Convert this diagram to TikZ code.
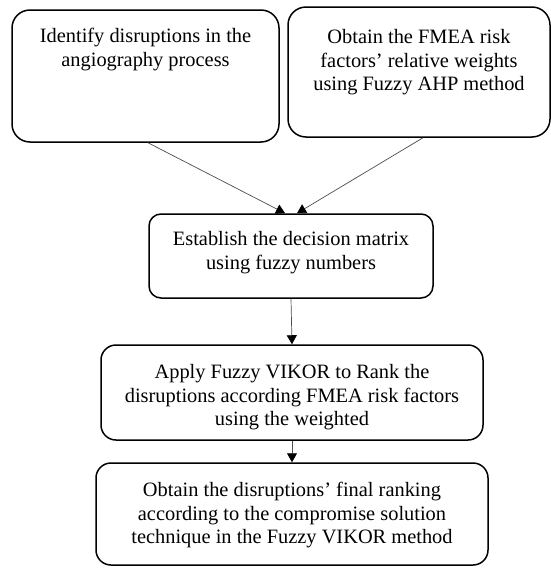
\documentclass[tikz,border=0pt]{standalone}
\usepackage{fontspec}
\setmainfont{Liberation Serif}
\usetikzlibrary{arrows.meta}

\begin{document}
\begin{tikzpicture}[x=1pt,y=-1pt,
  stepbox/.style={draw=black,line width=1.5pt,rounded corners=16pt,inner sep=0pt},
  steptext/.style={anchor=north,align=center,inner sep=0pt,font=\fontsize{20.4}{23.5}\selectfont},
  link/.style={draw=black!70,line width=0.7pt,-{Triangle[length=9pt,width=10pt,color=black]}}]
\useasboundingbox (0,0) rectangle (551,568);
\def\gap{19};

% top row
\node[stepbox,minimum width=267pt,minimum height=132pt,rounded corners=18pt] (idf) at (145.5,76) {};
\node[steptext] (idft) at ([yshift=-\gap pt]idf.north) {Identify disruptions in the\\angiography process};
\node[stepbox,minimum width=262pt,minimum height=130pt,rounded corners=18pt] (ahp) at (419,72) {};
\node[steptext] (ahpt) at ([yshift=-23pt]ahp.north) {Obtain the FMEA risk\\factors’ relative weights\\using Fuzzy AHP method};

% decision matrix
\node[stepbox,minimum width=284pt,minimum height=84pt,rounded corners=12pt] (mat) at (291,256) {};
\node[steptext] (matt) at ([yshift=-18pt]mat.north) {Establish the decision matrix\\using fuzzy numbers};
\draw[link] ([xshift=2.5pt]idf.south) -- ([xshift=-6pt]mat.north);
\draw[link] ([xshift=4pt]ahp.south) -- ([xshift=6pt]mat.north);

% vikor
\node[stepbox,minimum width=382pt,minimum height=95pt,rounded corners=15pt] (vik) at (292,392.5) {};
\node[steptext] (vikt) at ([yshift=-20pt]vik.north) {Apply Fuzzy VIKOR to Rank the\\disruptions according FMEA risk factors\\using the weighted};
\draw[link] (mat.south) -- (vik.north);

% final ranking
\node[stepbox,minimum width=392pt,minimum height=102pt,rounded corners=15pt] (rnk) at (292,514) {};
\node[steptext] (rnkt) at ([yshift=-20pt]rnk.north) {Obtain the disruptions’ final ranking\\according to the compromise solution\\technique in the Fuzzy VIKOR method};
\draw[link] (vik.south) -- (rnk.north);
\end{tikzpicture}
\end{document}
